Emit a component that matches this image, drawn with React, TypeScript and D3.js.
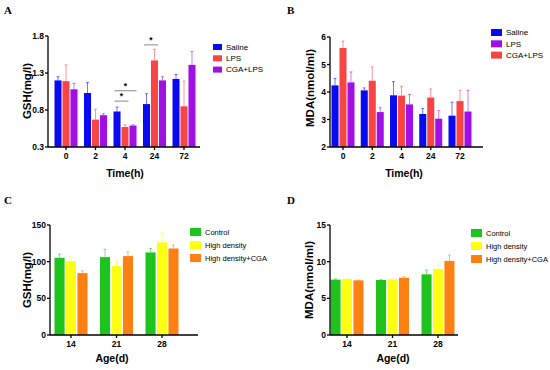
import React from 'react';
import * as d3 from 'd3';

// categories
const timeCats = ['0', '2', '4', '24', '72'];
const ageCats = ['14', '21', '28'];

// panel A : GSH (mg/l) vs time
const gshSaline = [1.2, 1.03, 0.78, 0.88, 1.22];
const gshSalineSd = [0.05, 0.14, 0.06, 0.14, 0.06];
const gshLps = [1.19, 0.67, 0.57, 1.47, 0.85];
const gshLpsSd = [0.22, 0.14, 0.03, 0.15, 0.34];
const gshCgaLps = [1.08, 0.73, 0.59, 1.2, 1.41];
const gshCgaLpsSd = [0.08, 0.02, 0.01, 0.05, 0.18];
const gshTicks = [0.3, 0.8, 1.3, 1.8];

// panel B : MDA (nmol/ml) vs time (bars drawn blue, red, purple)
const mdaSaline = [4.24, 4.06, 3.88, 3.2, 3.14];
const mdaSalineSd = [0.25, 0.09, 0.5, 0.2, 0.49];
const mdaCgaLps = [5.6, 4.41, 3.87, 3.8, 3.67];
const mdaCgaLpsSd = [0.25, 0.5, 0.34, 0.31, 0.39];
const mdaLps = [4.35, 3.27, 3.55, 3.03, 3.29];
const mdaLpsSd = [0.38, 0.16, 0.36, 0.29, 0.77];
const mdaTicks = [2, 3, 4, 5, 6];

// panel C : GSH vs age
const gshControl = [105.3, 106.2, 112.6];
const gshControlSd = [5, 10.6, 5.4];
const gshHigh = [100.8, 94, 126.3];
const gshHighSd = [6.8, 9, 13.7];
const gshHighCga = [84.4, 107.6, 118];
const gshHighCgaSd = [3.1, 5.9, 4.6];
const gshAgeTicks = [0, 50, 100, 150];

// panel D : MDA vs age
const mdaControl = [7.55, 7.5, 8.27];
const mdaControlSd = [0.1, 0.05, 0.6];
const mdaHigh = [7.64, 7.6, 9.0];
const mdaHighSd = [0.05, 0.05, 0.55];
const mdaHighCga = [7.45, 7.8, 10.1];
const mdaHighCgaSd = [0.05, 0.15, 0.8];
const mdaAgeTicks = [0, 5, 10, 15];

// significance brackets in A: category, bar indexes, level
const sigCats = ['4', '4', '24'];
const sigFrom = [0, 0, 0];
const sigTo = [1, 2, 1];
const sigLevel = [0.92, 1.06, 1.68];

const BLUE = '#0a0af2';
const RED = '#f84444';
const PURPLE = '#a010e6';
const GREEN = '#1ec31e';
const YELLOW = '#ffff14';
const ORANGE = '#ff8012';

const sans = '"Liberation Sans", Arial, sans-serif';

interface Series { name: string; color: string; values: number[]; sd: number[] }

interface Frame {
  axisX: number; axisEnd: number; yTop: number; yBottom: number;
  c0: number; c1: number; groupW: number;
  letterX: number; letterY: number;
  yTitleX: number; yTitleY: number; xTitleX: number; xTitleY: number;
  legendX: number; legendY: number; legendGap: number; legendFont: number;
  swW: number; swH: number;
}

function Panel(props: {
  letter: string; cats: string[]; series: Series[]; legend: Series[];
  domain: [number, number]; ticks: number[]; fmt: (v: number) => string;
  yTitle: string; xTitle: string; f: Frame; sig?: boolean;
}) {
  const { letter, cats, series, legend, domain, ticks, fmt, yTitle, xTitle, f } = props;
  const y = d3.scaleLinear().domain(domain).range([f.yBottom, f.yTop]);
  const x = d3.scalePoint<string>().domain(cats).range([f.c0, f.c1]);
  const inner = d3.scaleBand<number>()
    .domain(series.map((_, i) => i))
    .range([-f.groupW / 2, f.groupW / 2])
    .paddingInner(0.12);
  const bw = inner.bandwidth();

  return (
    <g>
      <text x={f.letterX} y={f.letterY} fontFamily='"Liberation Serif", serif' fontWeight="bold" fontSize={11}>{letter}</text>

      {series.map((s, si) => (
        <g key={s.name}>
          {cats.map((c, ci) => {
            const bx = (x(c) as number) + (inner(si) as number);
            const top = y(s.values[ci]);
            const et = y(s.values[ci] + s.sd[ci]);
            return (
              <g key={c}>
                <line x1={bx + bw / 2} x2={bx + bw / 2} y1={top} y2={et} stroke={s.color} strokeOpacity={0.55} strokeWidth={1} />
                <line x1={bx + bw / 2 - 1.5} x2={bx + bw / 2 + 1.5} y1={et} y2={et} stroke={s.color} strokeOpacity={0.55} strokeWidth={1} />
                <rect x={bx} y={top} width={bw} height={f.yBottom - top} fill={s.color} />
              </g>
            );
          })}
        </g>
      ))}

      {props.sig && sigCats.map((c, i) => {
        const x1 = (x(c) as number) + (inner(sigFrom[i]) as number) + 1;
        const x2 = (x(c) as number) + (inner(sigTo[i]) as number) + bw;
        const yy = y(sigLevel[i]);
        return (
          <g key={i}>
            <line x1={x1} x2={x2} y1={yy} y2={yy} stroke="#888" strokeWidth={1} />
            <text x={(x1 + x2) / 2} y={yy - 2} textAnchor="middle" fontFamily={sans} fontWeight="bold" fontSize={8.5}>*</text>
          </g>
        );
      })}

      {/* y axis */}
      <line x1={f.axisX} x2={f.axisX} y1={f.yTop} y2={f.yBottom} stroke="#000" strokeWidth={1.3} />
      {ticks.map(t => (
        <g key={t}>
          <line x1={f.axisX - 3} x2={f.axisX} y1={y(t)} y2={y(t)} stroke="#000" strokeWidth={1.3} />
          <text x={f.axisX - 4} y={y(t) + 3} textAnchor="end" fontFamily={sans} fontWeight="bold" fontSize={8.5}>{fmt(t)}</text>
        </g>
      ))}

      {/* x axis */}
      <line x1={f.axisX} x2={f.axisEnd} y1={f.yBottom} y2={f.yBottom} stroke="#000" strokeWidth={1.3} />
      {cats.map(c => (
        <g key={c}>
          <line x1={x(c)} x2={x(c)} y1={f.yBottom} y2={f.yBottom + 3} stroke="#000" strokeWidth={1.3} />
          <text x={x(c)} y={f.yBottom + 12} textAnchor="middle" fontFamily={sans} fontWeight="bold" fontSize={8.5}>{c}</text>
        </g>
      ))}

      <text x={f.xTitleX} y={f.xTitleY} textAnchor="middle" fontFamily={sans} fontWeight="bold" fontSize={10.5}>{xTitle}</text>
      <text transform={`translate(${f.yTitleX},${f.yTitleY}) rotate(-90)`} textAnchor="middle" fontFamily={sans} fontWeight="bold" fontSize={11.5}>{yTitle}</text>

      {legend.map((s, i) => (
        <g key={s.name} transform={`translate(${f.legendX},${f.legendY + i * f.legendGap})`}>
          <rect x={0} y={-f.swH / 2} width={f.swW} height={f.swH} fill={s.color} />
          <text x={f.swW + 4} y={f.legendFont * 0.36} fontFamily={sans} fontSize={f.legendFont}>{s.name}</text>
        </g>
      ))}
    </g>
  );
}

export default function App() {
  const aSeries: Series[] = [
    { name: 'Saline', color: BLUE, values: gshSaline, sd: gshSalineSd },
    { name: 'LPS', color: RED, values: gshLps, sd: gshLpsSd },
    { name: 'CGA+LPS', color: PURPLE, values: gshCgaLps, sd: gshCgaLpsSd },
  ];
  const bSaline = { name: 'Saline', color: BLUE, values: mdaSaline, sd: mdaSalineSd };
  const bLps = { name: 'LPS', color: PURPLE, values: mdaLps, sd: mdaLpsSd };
  const bCga = { name: 'CGA+LPS', color: RED, values: mdaCgaLps, sd: mdaCgaLpsSd };
  const cSeries: Series[] = [
    { name: 'Control', color: GREEN, values: gshControl, sd: gshControlSd },
    { name: 'High density', color: YELLOW, values: gshHigh, sd: gshHighSd },
    { name: 'High density+CGA', color: ORANGE, values: gshHighCga, sd: gshHighCgaSd },
  ];
  const dSeries: Series[] = [
    { name: 'Control', color: GREEN, values: mdaControl, sd: mdaControlSd },
    { name: 'High density', color: YELLOW, values: mdaHigh, sd: mdaHighSd },
    { name: 'High density+CGA', color: ORANGE, values: mdaHighCga, sd: mdaHighCgaSd },
  ];

  return (
    <svg width={550} height={370} style={{ position: 'absolute', left: 0, top: 0, background: '#fff' }}>
      <Panel letter="A" cats={timeCats} series={aSeries} legend={aSeries}
        domain={[0.3, 1.8]} ticks={gshTicks} fmt={d3.format('.1f')}
        yTitle="GSH(mg/l)" xTitle="Time(h)" sig
        f={{ axisX: 48, axisEnd: 200, yTop: 36, yBottom: 147, c0: 66, c1: 184, groupW: 23,
          letterX: 4, letterY: 14, yTitleX: 31, yTitleY: 91, xTitleX: 125, xTitleY: 177,
          legendX: 213, legendY: 47, legendGap: 11.3, legendFont: 8, swW: 9, swH: 6 }} />
      <Panel letter="B" cats={timeCats} series={[bSaline, bCga, bLps]} legend={[bSaline, bLps, bCga]}
        domain={[2, 6]} ticks={mdaTicks} fmt={d3.format('d')}
        yTitle="MDA(nmol/ml)" xTitle="Time(h)"
        f={{ axisX: 330, axisEnd: 483, yTop: 37, yBottom: 147, c0: 343, c1: 460, groupW: 23,
          letterX: 287, letterY: 14, yTitleX: 314, yTitleY: 88, xTitleX: 404, xTitleY: 177,
          legendX: 491, legendY: 32.5, legendGap: 11.3, legendFont: 8, swW: 11, swH: 7 }} />
      <Panel letter="C" cats={ageCats} series={cSeries} legend={cSeries}
        domain={[0, 150]} ticks={gshAgeTicks} fmt={d3.format('d')}
        yTitle="GSH(mg/l)" xTitle="Age(d)"
        f={{ axisX: 50, axisEnd: 198, yTop: 225, yBottom: 335, c0: 71, c1: 162, groupW: 33,
          letterX: 4, letterY: 204, yTitleX: 31, yTitleY: 280, xTitleX: 112, xTitleY: 362,
          legendX: 190, legendY: 232, legendGap: 13, legendFont: 7.5, swW: 11, swH: 8 }} />
      <Panel letter="D" cats={ageCats} series={dSeries} legend={dSeries}
        domain={[0, 15]} ticks={mdaAgeTicks} fmt={d3.format('d')}
        yTitle="MDA(nmol/ml)" xTitle="Age(d)"
        f={{ axisX: 330, axisEnd: 458, yTop: 225, yBottom: 335, c0: 347, c1: 438, groupW: 33,
          letterX: 287, letterY: 204, yTitleX: 313, yTitleY: 280, xTitleX: 393, xTitleY: 362,
          legendX: 471, legendY: 233, legendGap: 13, legendFont: 7.5, swW: 11, swH: 8 }} />
    </svg>
  );
}
